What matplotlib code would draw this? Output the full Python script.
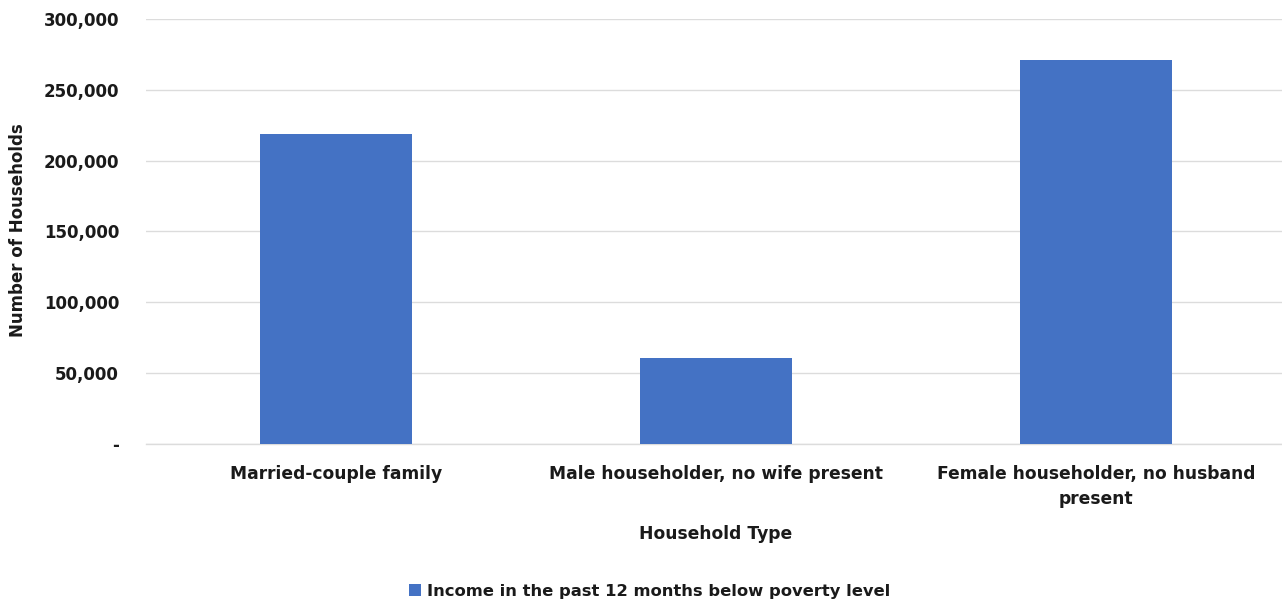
import matplotlib
matplotlib.use("Agg")
import matplotlib.pyplot as plt
from matplotlib.ticker import FuncFormatter

categories = ["Married-couple family", "Male householder, no wife present",
              "Female householder, no husband\npresent"]
values = [219000, 61000, 271000]
series_name = "Income in the past 12 months below poverty level"
yticks = [0, 50000, 100000, 150000, 200000, 250000, 300000]

plt.rcParams['font.family'] = ['DejaVu Sans']
fig = plt.figure(figsize=(12.82, 6.05), dpi=100)
ax = fig.add_axes([0.1135, 0.266, 0.89, 0.703])

x = list(range(len(categories)))
ax.bar(x, values, width=0.4, color="#4472C4", label=series_name, zorder=3)
ax.set_xlim(-0.5, 2.5)
ax.set_ylim(0, 300000)
ax.set_yticks(yticks)
ax.yaxis.set_major_formatter(FuncFormatter(lambda v, p: "-" if v == 0 else f"{int(v):,}"))
ax.grid(axis="y", color="#dcdcdc", linewidth=1.0, zorder=0)
ax.set_xticks(x)
ax.set_xticklabels(categories, fontsize=12.3, fontweight="bold", color="#1a1a1a",
                   linespacing=1.5)
for lab in ax.get_yticklabels():
    lab.set_fontsize(12)
    lab.set_fontweight("bold")
    lab.set_color("#1a1a1a")
ax.tick_params(axis="both", length=0)
ax.tick_params(axis="y", pad=19)
ax.tick_params(axis="x", pad=15)
for s in ["top", "right", "left"]:
    ax.spines[s].set_visible(False)
ax.spines["bottom"].set_color("#dcdcdc")
ax.spines["bottom"].set_linewidth(1.0)

ax.set_xlabel("Household Type", fontsize=12.3, fontweight="bold", color="#1a1a1a", labelpad=12)
fig.text(0.014, 0.62, "Number of Households", rotation=90, ha="center", va="center",
         fontsize=12, fontweight="bold", color="#1a1a1a")

fig.legend(loc="center", bbox_to_anchor=(0.507, 0.023), frameon=False,
           prop={"size": 11.8, "weight": "bold"}, handlelength=0.7, handleheight=0.7,
           handletextpad=0.4, labelcolor="#1a1a1a")

fig.savefig("out.png", dpi=100)
